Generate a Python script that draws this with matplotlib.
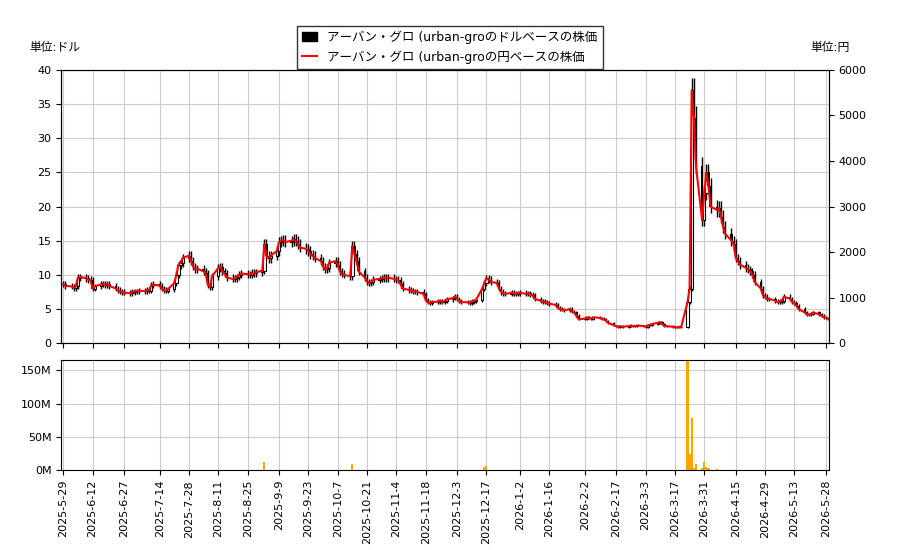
import matplotlib
matplotlib.use('Agg')
import matplotlib.pyplot as plt
import matplotlib.dates as mdates
import numpy as np
import pandas as pd
from matplotlib.patches import Patch
from matplotlib.lines import Line2D

plt.rcParams['font.family'] = ['DejaVu Sans', 'Noto Sans CJK JP']

close = [
    8.6, 8.4, 8.3, 8.1, 8.4,  9.6, 9.7, 9.5, 9.3, 9.2,  8.0, 8.3, 8.6, 8.7, 8.5,
    8.7, 8.4, 8.0, 7.8, 7.6,  7.5, 7.4, 7.3, 7.5, 7.6,  7.6, 7.7, 7.6, 7.8, 7.7,
    8.5, 8.6, 8.4, 8.0, 7.8,  7.7, 7.9, 8.8, 10.0, 11.5,  11.8, 12.5, 12.8, 12.0, 11.2,
    10.8, 10.9, 10.5, 10.2, 8.5,  8.2, 9.8, 11.0, 11.2, 10.5,  10.2, 9.6, 9.4, 9.5, 9.7,
    10.0, 10.2, 10.1, 10.0, 10.3,  10.2, 10.4, 10.6, 14.5, 12.8,  12.4, 12.8, 13.5, 14.8, 15.0,
    15.1, 14.8, 15.0, 15.2, 14.9,  14.5, 14.0, 13.8, 13.5, 13.0,  12.8, 12.5, 12.0, 11.2, 10.8,
    11.0, 11.8, 12.0, 11.5, 10.5,  10.2, 10.0, 9.8, 14.2, 13.0,  12.0, 10.5, 9.6, 9.0, 8.8,
    9.0, 9.3, 9.4, 9.5, 9.6,  9.5, 9.6, 9.4, 9.3, 9.2,  8.6, 8.0, 7.8, 7.7, 7.6,
    7.6, 7.5, 7.2, 6.3, 6.0,  5.9, 6.0, 6.1, 6.2, 6.0,  6.2, 6.4, 6.6, 6.8, 6.5,
    6.2, 6.0, 6.0, 5.9, 6.1,  6.2, 6.3, 8.0, 8.8, 9.5,  9.3, 9.0, 8.8, 8.0, 7.5,
    7.3, 7.2, 7.4, 7.3, 7.2,  7.3, 7.4, 7.2, 7.3, 7.1,  7.0, 6.5, 6.2, 6.1, 6.0,
    5.9, 5.8, 5.6, 5.2, 5.0,  4.9, 4.8, 5.0, 4.6, 4.5,  4.0, 3.5, 3.6, 3.8, 3.7,
    3.6, 3.8, 3.7, 3.6, 3.5,  3.3, 3.0, 2.6, 2.5, 2.4,  2.5, 2.4, 2.5, 2.6, 2.5,
    2.5, 2.6, 2.5, 2.4, 2.6,  2.7, 2.8, 3.0, 3.1, 2.8,  2.5, 2.5, 2.4, 2.4, 2.3,
    2.4, 2.4,
    6.0, 8.0, 37.0, 33.0, 26.0,  18.0, 22.0, 25.0, 23.0, 20.0,  19.5, 19.8, 18.5, 17.0, 16.0,
    15.0, 14.5, 12.5, 12.0, 11.5,  11.0, 10.8, 10.5, 10.0, 9.0,  8.0, 7.0, 6.8, 6.5, 6.5,
    6.2, 6.0, 6.1,  6.2, 6.8, 6.5, 6.0, 5.9,  5.5, 5.0, 4.5, 4.2, 4.2,
    4.3, 4.5, 4.2, 4.0, 3.8,  3.7, 3.6,
]
fx_rate = 150.0  # yen per dollar
vol_base = 0.6e6
vol_spikes = {68: 12e6, 98: 9e6, 143: 5e6, 144: 7e6,
              212: 165e6, 213: 25e6, 214: 78e6, 215: 4e6, 216: 10e6,
              217: 3e6, 218: 12e6, 219: 5e6, 220: 3e6, 222: 2e6}
tick_labels = ['2025-5-29', '2025-6-12', '2025-6-27', '2025-7-14', '2025-7-28',
               '2025-8-11', '2025-8-25', '2025-9-9', '2025-9-23', '2025-10-7',
               '2025-10-21', '2025-11-4', '2025-11-18', '2025-12-3', '2025-12-17',
               '2026-1-2', '2026-1-16', '2026-2-2', '2026-2-17', '2026-3-3',
               '2026-3-17', '2026-3-31', '2026-4-15', '2026-4-29', '2026-5-13',
               '2026-5-28']

dates = pd.bdate_range('2025-05-29', periods=len(close))
x = mdates.date2num(dates)
c = np.array(close)
o = np.r_[c[0], c[:-1]]
hi = np.maximum(o, c) * 1.05
lo = np.minimum(o, c) * 0.95
vol = np.array([vol_spikes.get(i, vol_base) for i in range(len(c))])

fig = plt.figure(figsize=(9, 5.5), dpi=100)
ax = fig.add_axes([0.068, 0.376, 0.853, 0.497])
axv = fig.add_axes([0.068, 0.145, 0.853, 0.2], sharex=ax)

up = c >= o
ax.vlines(x, lo, hi, color='black', lw=1, zorder=2)
ax.bar(x[up], (c - o)[up], bottom=o[up], width=1.1, facecolor='white',
       edgecolor='black', lw=0.8, zorder=3)
ax.bar(x[~up], (o - c)[~up], bottom=c[~up], width=1.1, color='black', zorder=3)
ax.set_ylim(0, 40)
ax.grid(color='#cccccc')
ax.set_axisbelow(True)

ax2 = ax.twinx()
ax2.plot(x, c * fx_rate, color='red', lw=1.5)
ax2.set_ylim(0, 6000)

axv.bar(x, vol, width=1.0, color='orange')
axv.set_ylim(0, 165e6)
axv.set_yticks([0, 50e6, 100e6, 150e6])
axv.set_yticklabels(['0M', '50M', '100M', '150M'])
axv.grid(color='#cccccc')
axv.set_axisbelow(True)

ticks = mdates.date2num(pd.to_datetime(tick_labels))
axv.set_xticks(ticks)
axv.set_xticklabels(tick_labels, rotation=90, fontsize=7.5)
axv.set_xlim(x[0] - 1, x[-1] + 0.5)
plt.setp(ax.get_xticklabels(), visible=False)
for a in (ax, ax2, axv):
    a.tick_params(labelsize=8)

handles = [Patch(color='black'), Line2D([], [], color='red')]
fig.legend(handles, ['アーバン・グロ (urban-groのドルベースの株価',
                     'アーバン・グロ (urban-groの円ベースの株価'],
           loc='upper center', bbox_to_anchor=(0.5, 0.965), fontsize=9,
           fancybox=False, edgecolor='black', handlelength=1.2)
fig.text(0.033, 0.908, '単位:ドル', fontsize=8.5)
fig.text(0.9, 0.908, '単位:円', fontsize=8.5)

fig.savefig('out.png')
